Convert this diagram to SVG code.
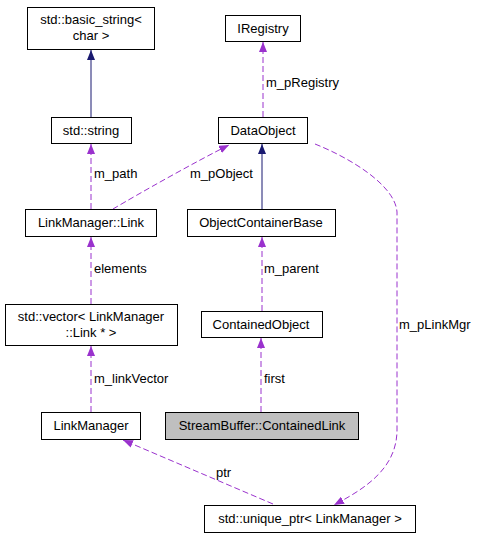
<svg xmlns="http://www.w3.org/2000/svg" width="480" height="539" viewBox="0 0 480 539">
<style>
.box{fill:#ffffff;stroke:#000000;stroke-width:1}
.hl{fill:#bfbfbf}
text{font-family:"Liberation Sans",Arial,sans-serif;font-size:13px;fill:#000000}
.c{text-anchor:middle}
.inh{fill:none;stroke:#191970;stroke-width:1}
.use{fill:none;stroke:#9a32cd;stroke-width:1;stroke-dasharray:6,3}
</style>
<defs>
<marker id="aN" markerUnits="userSpaceOnUse" markerWidth="10" markerHeight="8" viewBox="0 0 10 8" refX="10" refY="4" orient="auto"><path d="M0,0 L10,4 L0,8 z" fill="#191970"/></marker>
<marker id="aP" markerUnits="userSpaceOnUse" markerWidth="10" markerHeight="8" viewBox="0 0 10 8" refX="10" refY="4" orient="auto"><path d="M0,0 L10,4 L0,8 z" fill="#9a32cd"/></marker>
</defs>
<rect width="480" height="539" fill="#ffffff"/>
<g id="edges">
<path class="inh" d="M91,117 L91,50" marker-end="url(#aN)"/>
<path class="inh" d="M262,209 L262,144" marker-end="url(#aN)"/>
<path class="use" d="M263,117 L263,42" marker-end="url(#aP)"/>
<text x="266" y="87">m_pRegistry</text>
<path class="use" d="M91,209 L91,144" marker-end="url(#aP)"/>
<text x="94" y="178">m_path</text>
<path class="use" d="M113,209 C140,193 195,162 229,145" marker-end="url(#aP)"/>
<text x="190" y="178">m_pObject</text>
<path class="use" d="M91,304 L91,237" marker-end="url(#aP)"/>
<text x="94" y="273">elements</text>
<path class="use" d="M262,311 L262,237" marker-end="url(#aP)"/>
<text x="264" y="273">m_parent</text>
<path class="use" d="M91,412 L91,346" marker-end="url(#aP)"/>
<text x="94" y="383">m_linkVector</text>
<path class="use" d="M261,412 L261,338" marker-end="url(#aP)"/>
<text x="264" y="383">first</text>
<path class="use" d="M273,504 L123,440" marker-end="url(#aP)"/>
<text x="216" y="477">ptr</text>
<path class="use" d="M315,144 C350,158 395,185 397,212 L397,430 C397,470 362,490 334,505" marker-end="url(#aP)"/>
<text x="399" y="329">m_pLinkMgr</text>
</g>
<g id="basic_string"><rect class="box" x="27.5" y="7.5" width="127" height="42"/><text class="c" x="91" y="24">std::basic_string&lt;</text><text class="c" x="91" y="40">char &gt;</text></g>
<g id="std_string"><rect class="box" x="51.5" y="117.5" width="80" height="26"/><text class="c" x="91" y="135">std::string</text></g>
<g id="IRegistry"><rect class="box" x="225.5" y="15.5" width="75" height="26"/><text class="c" x="263" y="33">IRegistry</text></g>
<g id="DataObject"><rect class="box" x="218.5" y="117.5" width="89" height="26"/><text class="c" x="263" y="135">DataObject</text></g>
<g id="LinkManager_Link"><rect class="box" x="25.5" y="209.5" width="131" height="27"/><text class="c" x="91" y="227">LinkManager::Link</text></g>
<g id="ObjectContainerBase"><rect class="box" x="187.5" y="209.5" width="148" height="27"/><text class="c" x="261" y="227">ObjectContainerBase</text></g>
<g id="vector"><rect class="box" x="5.5" y="304.5" width="172" height="41"/><text class="c" x="91" y="321">std::vector&lt; LinkManager</text><text class="c" x="91" y="337">::Link * &gt;</text></g>
<g id="ContainedObject"><rect class="box" x="201.5" y="311.5" width="121" height="26"/><text class="c" x="261" y="329">ContainedObject</text></g>
<g id="LinkManager"><rect class="box" x="41.5" y="412.5" width="99" height="27"/><text class="c" x="91" y="430">LinkManager</text></g>
<g id="ContainedLink"><rect class="box hl" x="165.5" y="412.5" width="193" height="27"/><text class="c" x="262" y="430">StreamBuffer::ContainedLink</text></g>
<g id="unique_ptr"><rect class="box" x="204.5" y="505.5" width="211" height="27"/><text class="c" x="310" y="523">std::unique_ptr&lt; LinkManager &gt;</text></g>
</svg>
